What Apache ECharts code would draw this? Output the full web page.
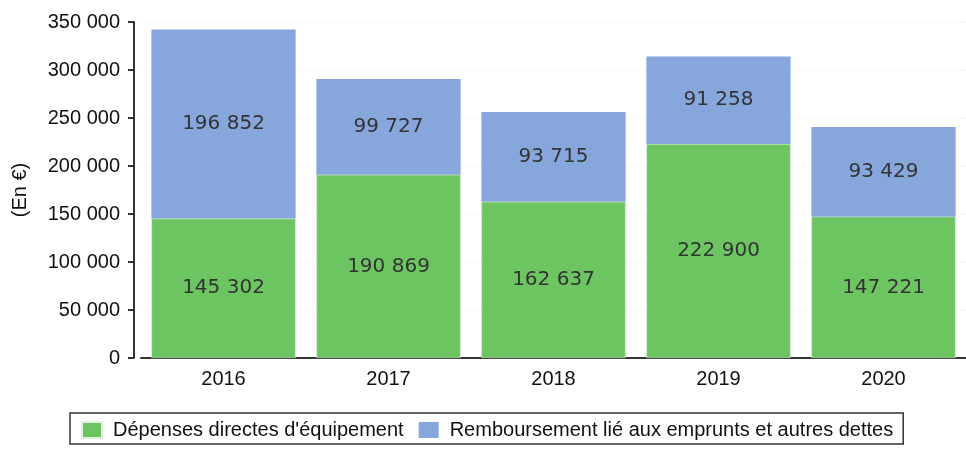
<!DOCTYPE html>
<html>
<head>
<meta charset="utf-8">
<script src="https://cdn.jsdelivr.net/npm/echarts@6/dist/echarts.min.js"></script>
<style>
  html, body { margin: 0; padding: 0; background: #fff; }
  #main { width: 966px; height: 449px; }
</style>
</head>
<body>
<div id="main"></div>
<script>
var annees = ["2016", "2017", "2018", "2019", "2020"];
var depensesEquipement = [145302, 190869, 162637, 222900, 147221];
var remboursementDettes = [196852, 99727, 93715, 91258, 93429];

// format "350 000"
function fmt(v) {
  return String(v).replace(/\B(?=(\d{3})+(?!\d))/g, " ");
}

var myChart = echarts.init(document.getElementById("main"));
myChart.setOption({
  animation: false,
  grid: { left: 141, right: 0, top: 22, bottom: 91 },
  legend: {
    top: 413,
    left: 70,
    padding: [7, 10, 4, 11],
    borderColor: "#333",
    borderWidth: 1.5,
    itemWidth: 20,
    itemHeight: 16,
    itemGap: 15,
    icon: "rect",
    textStyle: { fontFamily: "Liberation Sans", fontSize: 20, color: "#111", padding: [0, 0, 0, 6] },
    data: ["Dépenses directes d'équipement", "Remboursement lié aux emprunts et autres dettes"]
  },
  xAxis: {
    type: "category",
    data: annees,
    axisLine: { lineStyle: { color: "#333", width: 2 } },
    axisTick: { show: false },
    axisLabel: { fontFamily: "Liberation Sans", fontSize: 20, color: "#111", margin: 11 }
  },
  yAxis: {
    type: "value",
    min: 0,
    max: 350000,
    interval: 50000,
    offset: 7,
    name: "(En €)",
    nameLocation: "middle",
    nameGap: 104,
    nameTextStyle: { fontFamily: "Liberation Sans", fontSize: 20, color: "#111" },
    axisLine: { show: true, lineStyle: { color: "#333", width: 2 } },
    axisTick: { show: true, length: 6, lineStyle: { color: "#333", width: 2 } },
    axisLabel: {
      fontFamily: "Liberation Sans", fontSize: 20, color: "#111", margin: 14,
      formatter: fmt
    },
    splitLine: { show: true, lineStyle: { color: "#eeeeee", type: "dotted" } }
  },
  series: [
    {
      name: "Dépenses directes d'équipement",
      type: "bar",
      stack: "total",
      barWidth: "87.4%",
      data: depensesEquipement,
      itemStyle: { color: "#6cc561", borderColor: "#dff0dc", borderWidth: 0.5 },
      label: {
        show: true, position: "inside",
        fontFamily: "DejaVu Sans", fontSize: 20, color: "#333",
        formatter: function (p) { return fmt(p.value); }
      }
    },
    {
      name: "Remboursement lié aux emprunts et autres dettes",
      type: "bar",
      stack: "total",
      data: remboursementDettes,
      itemStyle: { color: "#86a6dc" },
      label: {
        show: true, position: "inside",
        fontFamily: "DejaVu Sans", fontSize: 20, color: "#333",
        formatter: function (p) { return fmt(p.value); }
      }
    }
  ]
});
</script>
</body>
</html>
